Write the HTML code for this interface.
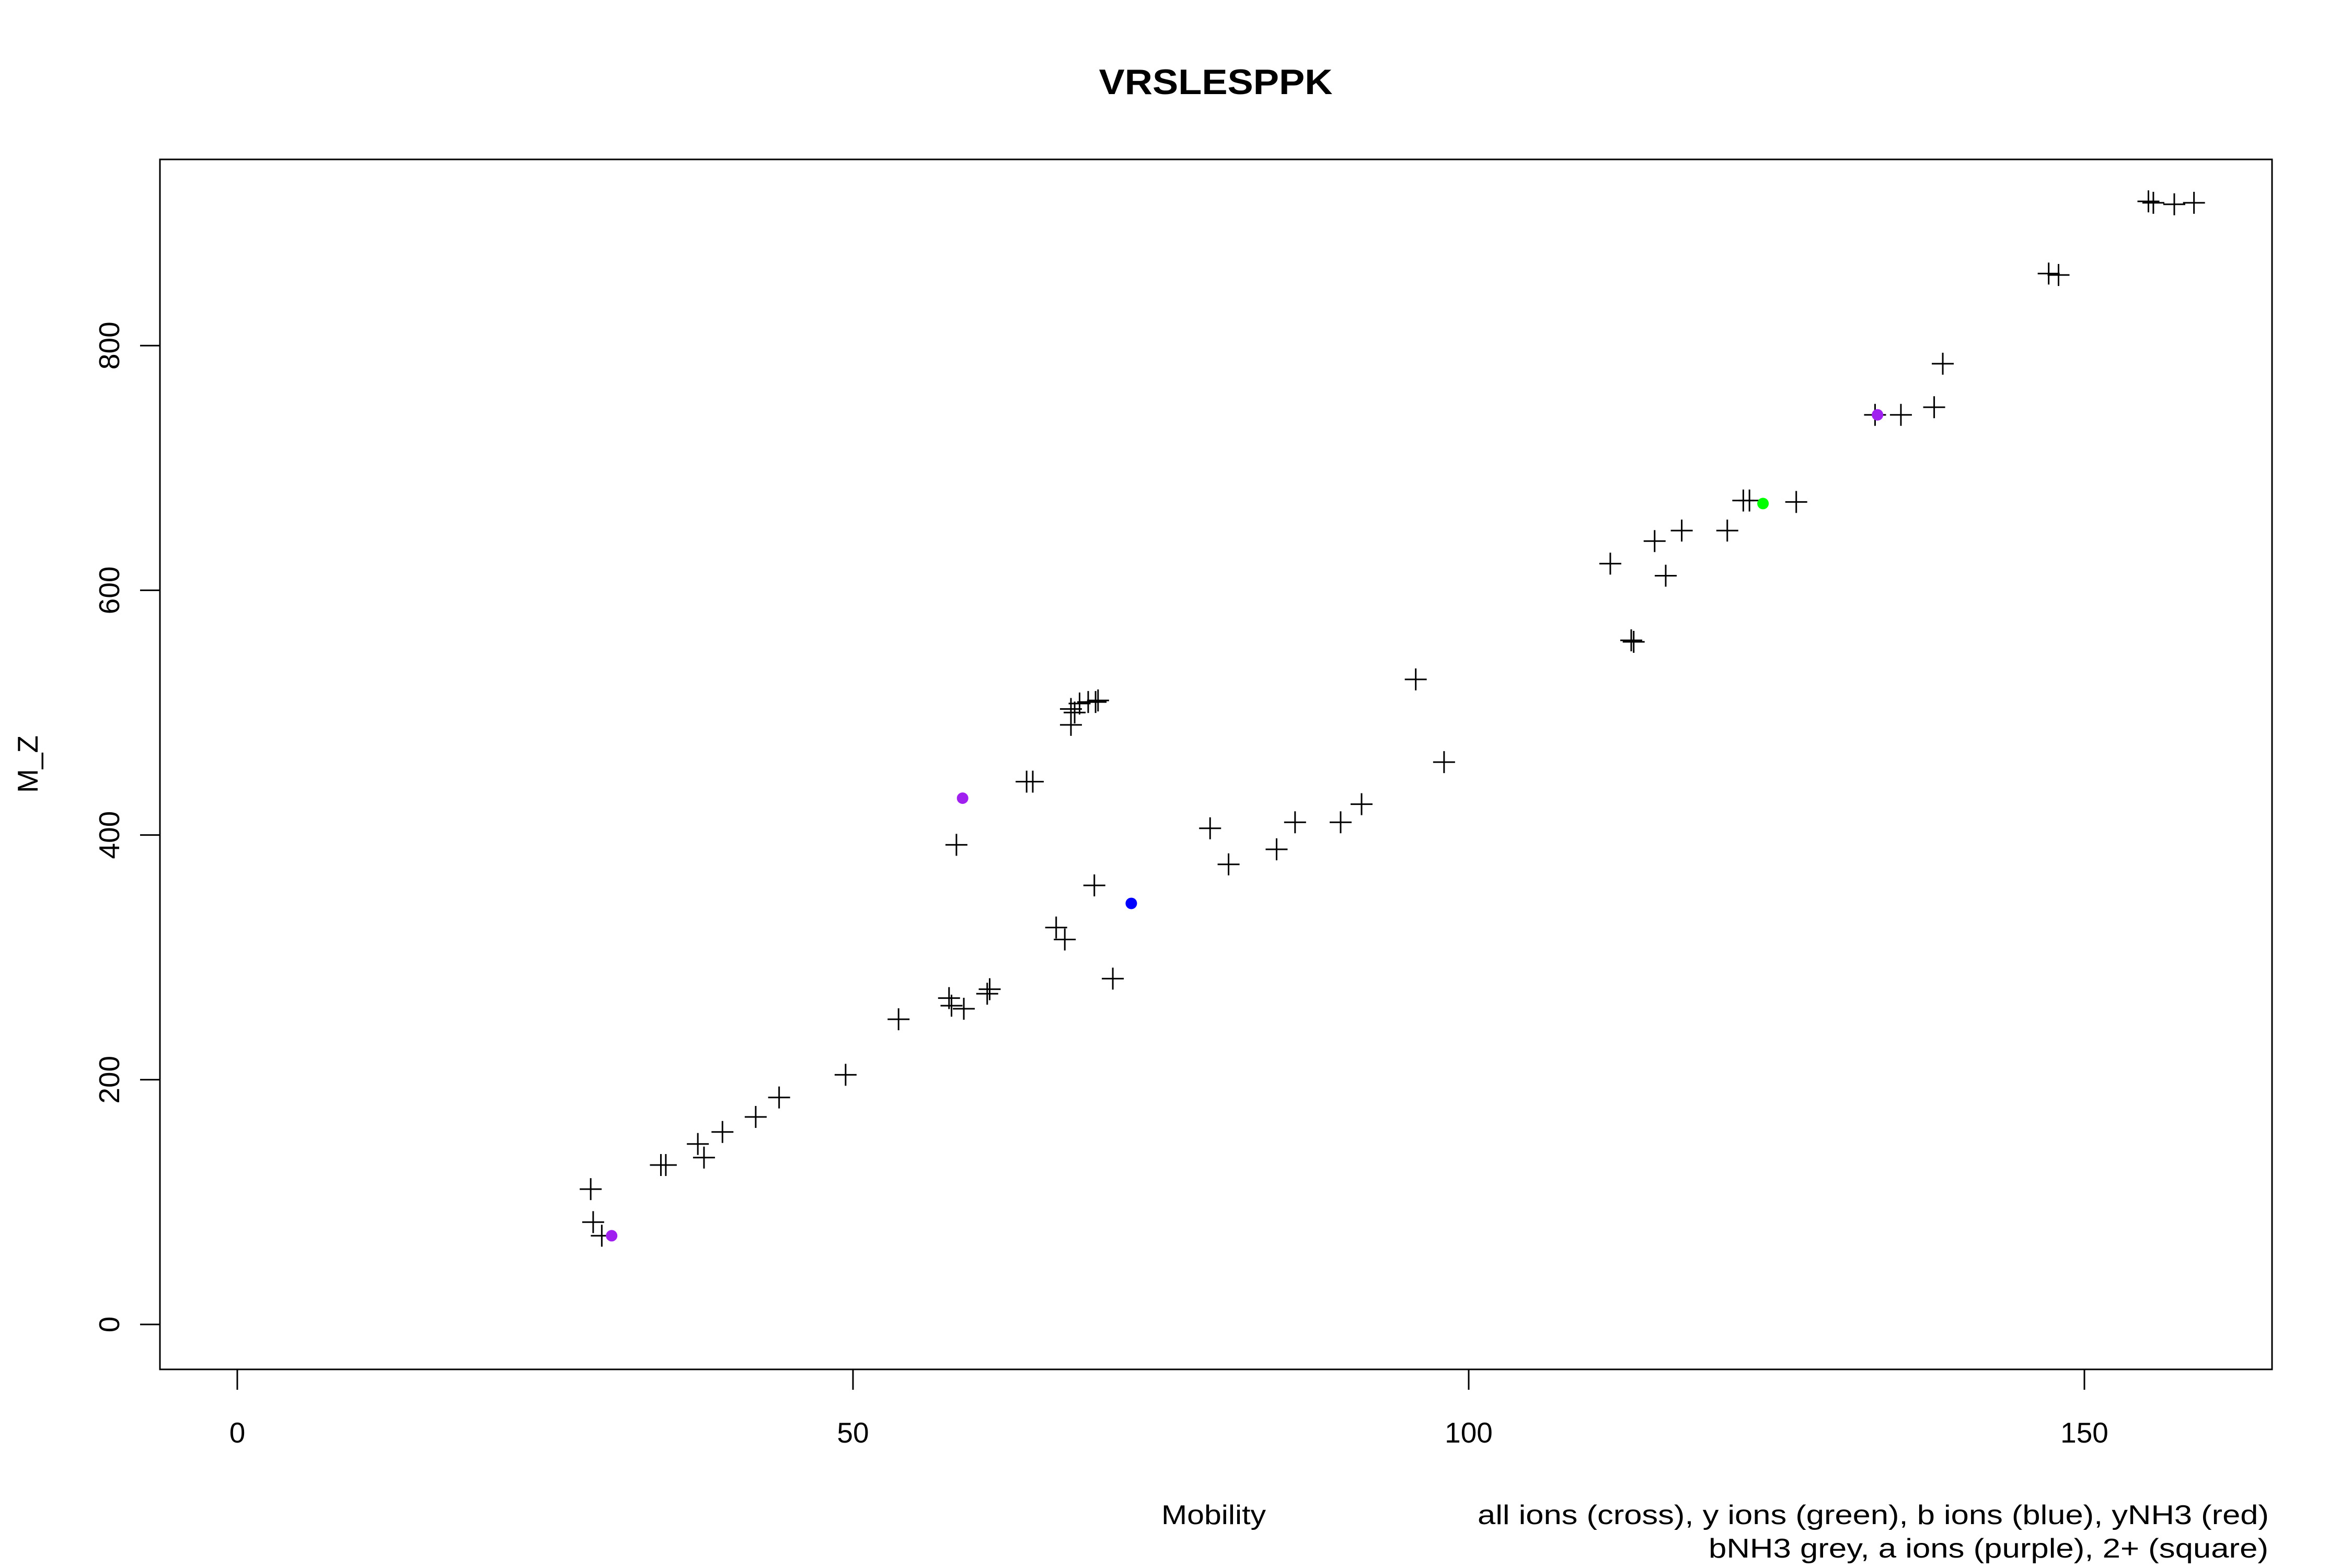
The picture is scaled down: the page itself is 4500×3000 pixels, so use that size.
<!DOCTYPE html>
<html><head><meta charset="utf-8"><style>
html,body{margin:0;padding:0;background:#fff;}
svg{display:block;font-family:"Liberation Sans",Arial,sans-serif;}
</style></head>
<body>
<svg id="chart" width="4500" height="3000" viewBox="0 0 4500 3000" xmlns="http://www.w3.org/2000/svg">
<rect x="0" y="0" width="4500" height="3000" fill="#fff"/>
<text x="2326" y="180" font-size="68" font-weight="bold" text-anchor="middle" textLength="447" lengthAdjust="spacingAndGlyphs">VRSLESPPK</text>
<rect x="306" y="305" width="4041" height="2315" fill="none" stroke="#000" stroke-width="3"/>
<g id="xaxis"></g>
<g id="yaxis"></g>
<g id="marks"></g>
<text x="2222" y="2916" font-size="52" textLength="200" lengthAdjust="spacingAndGlyphs">Mobility</text>
<text transform="translate(72,1462) rotate(-90)" font-size="55" text-anchor="middle">M_Z</text>
<text x="2827" y="2916" font-size="52" textLength="1514" lengthAdjust="spacingAndGlyphs">all ions (cross), y ions (green), b ions (blue), yNH3 (red)</text>
<text x="3269" y="2980" font-size="52" textLength="1071" lengthAdjust="spacingAndGlyphs">bNH3 grey, a ions (purple), 2+ (square)</text>
</svg>
<script>
const xTicks = [0, 50, 100, 150];
const yTicks = [0, 200, 400, 600, 800];
const allX = [28.7,28.9,29.6,34.4,34.8,37.4,37.9,39.4,42.1,44.0,49.4,53.7,57.8,58.0,59.0,60.9,61.1,58.4,64.1,64.6,66.5,67.2,69.6,71.1,67.7,67.7,68.0,68.4,69.1,69.7,69.9,79.0,80.5,84.4,85.9,89.6,91.3,95.7,98.0,111.5,113.2,113.4,115.1,116.0,117.3,121.0,122.3,122.8,126.6,133.0,135.1,137.8,138.5,147.1,147.9,155.2,155.6,157.3,158.9];
const allY = [110.6,83.6,72.5,130.3,130.3,147.5,136.4,157.3,169.6,185.5,204.0,249.4,266.7,260.5,258.0,270.3,274.0,392.0,443.6,443.6,324.4,314.6,358.8,282.6,490.0,503.0,500.1,507.5,508.7,508.7,510.0,405.5,376.0,388.3,410.4,410.4,425.2,527.2,459.6,621.8,559.1,557.9,640.2,611.9,648.8,648.8,673.4,673.4,672.2,743.4,743.4,749.6,785.2,858.9,857.7,917.9,916.7,915.5,916.7];
const aIonX = [30.4,58.9,133.2];
const aIonY = [72.5,430.1,743.4];
const yIonX = [123.9];
const yIonY = [670.9];
const bIonX = [72.6];
const bIonY = [344.1];

const NS = "http://www.w3.org/2000/svg";
const sx = v => 454 + v * 23.56;
const sy = v => 2534 - v * 2.341;
function mk(tag, attrs, parent) {
  const e = document.createElementNS(NS, tag);
  for (const k in attrs) e.setAttribute(k, attrs[k]);
  parent.appendChild(e);
  return e;
}
const xa = document.getElementById('xaxis');
const ya = document.getElementById('yaxis');
const mg = document.getElementById('marks');

xTicks.forEach(t => {
  const l = mk('line', {x1: sx(t), x2: sx(t), y1: 2620, y2: 2659, stroke: '#000', 'stroke-width': 3}, xa);
  
  
  const tx = mk('text', {x: sx(t), y: 2760, 'font-size': 55, 'text-anchor': 'middle'}, xa);
  tx.textContent = t;
  
  
});
yTicks.forEach(t => {
  const l = mk('line', {x1: 268, x2: 306, y1: sy(t), y2: sy(t), stroke: '#000', 'stroke-width': 3}, ya);
  
  
  const tx = mk('text', {transform: 'translate(228,' + sy(t) + ') rotate(-90)', 'font-size': 55, 'text-anchor': 'middle'}, ya);
  tx.textContent = t;
  
  
});
allX.forEach((v, i) => {
  const cx = sx(v), cy = sy(allY[i]);
  const p = mk('path', {d: 'M' + (cx - 21) + ' ' + cy + 'H' + (cx + 21) + 'M' + cx + ' ' + (cy - 21) + 'V' + (cy + 21), stroke: '#000', 'stroke-width': 3, fill: 'none'}, mg);
  
  
});
function dots(xs, ys, color, name) {
  xs.forEach((v, i) => {
    const c = mk('circle', {cx: sx(v), cy: sy(ys[i]), r: 11, fill: color}, mg);
    
    
  });
}
dots(aIonX, aIonY, '#a020f0', 'a-ion-point');
dots(yIonX, yIonY, '#00ff00', 'y-ion-point');
dots(bIonX, bIonY, '#0000ff', 'b-ion-point');
</script>
</body></html>
